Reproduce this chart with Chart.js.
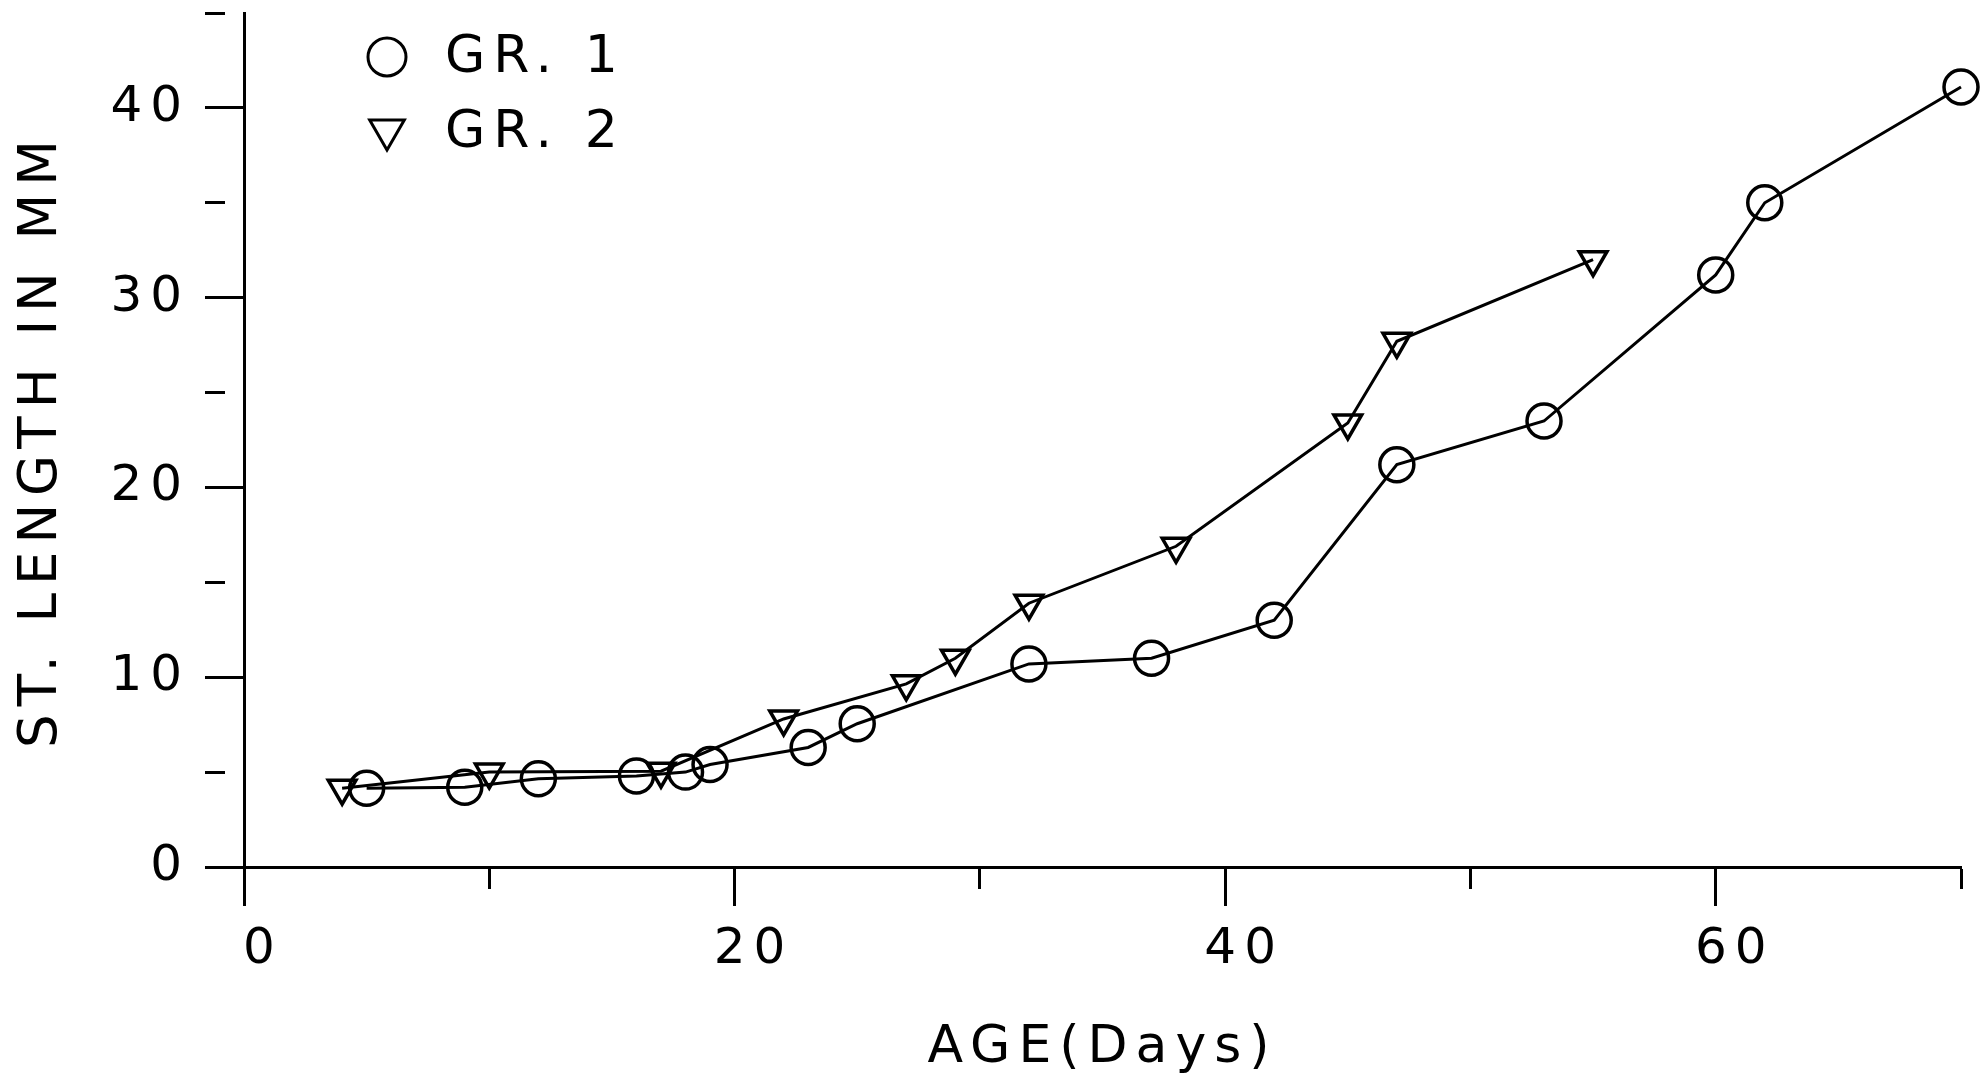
<!DOCTYPE html>
<html>
<head>
<meta charset="utf-8">
<title>St. length by age</title>
<script src="https://cdn.jsdelivr.net/npm/chart.js@4.4.1/dist/chart.umd.min.js"></script>
<style>
  html, body { margin: 0; padding: 0; background: #fff; }
  #wrap { width: 1981px; height: 1082px; }
</style>
</head>
<body>
<div id="wrap"><canvas id="growthChart" width="1981" height="1082"></canvas></div>
<script>
// values: age in days, standard length in mm
const gr1Age    = [5, 9, 12, 16, 18, 19, 23, 25, 32, 37, 42, 47, 53, 60, 62, 70];
const gr1Length = [4.15, 4.2, 4.65, 4.8, 5.0, 5.4, 6.3, 7.55, 10.7, 11.0, 13.0, 21.2, 23.5, 31.2, 35.0, 41.1];
const gr2Age    = [4, 10, 17, 22, 27, 29, 32, 38, 45, 47, 55];
const gr2Length = [4.15, 5.0, 5.05, 7.8, 9.65, 11.0, 13.9, 16.9, 23.4, 27.7, 32.0];

const seriesNames = ["GR. 1", "GR. 2"];
const xLabelTicks = [0, 20, 40, 60];      // labelled, long ticks
const yLabelTicks = [0, 10, 20, 30, 40];

const FONT = "'DejaVu Sans', 'Liberation Sans', sans-serif";
const INK  = "#000";

// plotter-style lettering is widely spaced
const spacing = {
    id: "spacing",
    beforeUpdate(chart) { chart.ctx.letterSpacing = "8px"; },
    beforeDraw(chart)   { chart.ctx.letterSpacing = "8px"; },
};

// legend sits inside the plot, top left
const insideLegend = {
    id: "insideLegend",
    afterDraw(chart) {
        const ctx  = chart.ctx;
        const rows = [{ my: 57, ty: 58, r: 19 }, { my: 130, ty: 133, r: 20 }];
        chart.data.datasets.forEach((ds, i) => {
            const row = rows[i];
            ctx.save();
            ctx.strokeStyle = INK;
            ctx.fillStyle   = "rgba(0,0,0,0)";
            ctx.lineWidth   = 3;
            Chart.helpers.drawPoint(ctx, {
                pointStyle: ds.pointStyle,
                radius: row.r,
                rotation: ds.pointRotation || 0,
                borderWidth: 3,
            }, 387, row.my);
            ctx.fillStyle    = INK;
            ctx.font         = "52px " + FONT;
            ctx.textBaseline = "middle";
            ctx.textAlign    = "left";
            ctx.fillText(ds.label, 445, row.ty);
            ctx.restore();
        });
    },
};

function toPoints(xs, ys) {
    return xs.map((x, i) => ({ x: x, y: ys[i] }));
}

const tickFont  = { family: FONT, size: 50 };
const titleFont = { family: FONT, size: 52 };

new Chart(document.getElementById("growthChart"), {
    type: "scatter",
    data: {
        datasets: [
            {
                label: seriesNames[0],
                data: toPoints(gr1Age, gr1Length),
                showLine: true,
                borderColor: INK,
                borderWidth: 3,
                pointStyle: "circle",
                pointRadius: 17,
                pointBorderWidth: 3.5,
                pointBorderColor: INK,
                pointBackgroundColor: "rgba(0,0,0,0)",
                clip: false,
            },
            {
                label: seriesNames[1],
                data: toPoints(gr2Age, gr2Length),
                showLine: true,
                borderColor: INK,
                borderWidth: 3,
                pointStyle: "triangle",
                pointRotation: 180,
                pointRadius: 16,
                pointBorderWidth: 3.5,
                pointBorderColor: INK,
                pointBackgroundColor: "rgba(0,0,0,0)",
                clip: false,
            },
        ],
    },
    options: {
        responsive: false,
        animation: false,
        devicePixelRatio: 1,
        events: [],
        layout: { autoPadding: false, padding: { left: 0, top: 13, right: 20, bottom: 0 } },
        plugins: { legend: { display: false }, tooltip: { enabled: false } },
        scales: {
            x: {
                type: "linear",
                min: 0,
                max: 70,
                afterFit(s) {
                    s.height = 215;
                    s.paddingLeft = 0;
                    s.paddingRight = 0;
                },
                border: { display: true, color: INK, width: 3 },
                grid: {
                    drawOnChartArea: false,
                    drawTicks: true,
                    tickLength: 39,
                    tickColor: INK,
                    tickWidth: 3,
                    tickBorderDash: c => xLabelTicks.includes(c.tick.value) ? [] : [20, 100],
                },
                ticks: {
                    stepSize: 10,
                    autoSkip: false,
                    maxRotation: 0,
                    padding: 14,
                    labelOffset: 19,
                    color: INK,
                    font: tickFont,
                    callback: v => xLabelTicks.includes(v) ? String(v) : "",
                },
                title: {
                    display: true,
                    text: "AGE(Days)",
                    color: INK,
                    font: titleFont,
                    padding: { top: 0, bottom: 2 },
                },
            },
            y: {
                type: "linear",
                min: 0,
                max: 45,
                afterFit(s) {
                    s.width = 244;
                    s.paddingTop = 0;
                    s.paddingBottom = 0;
                },
                border: { display: true, color: INK, width: 3 },
                grid: {
                    drawOnChartArea: false,
                    drawTicks: true,
                    tickLength: 39,
                    tickColor: INK,
                    tickWidth: 3,
                    tickBorderDash: c => yLabelTicks.includes(c.tick.value) ? [] : [20, 100],
                },
                ticks: {
                    stepSize: 5,
                    autoSkip: false,
                    padding: 15,
                    color: INK,
                    font: tickFont,
                    callback: v => yLabelTicks.includes(v) ? String(v) : "",
                },
                title: {
                    display: true,
                    text: "ST. LENGTH IN MM",
                    color: INK,
                    font: { family: FONT, size: 53 },
                    padding: { top: 10, bottom: 0 },
                },
            },
        },
    },
    plugins: [spacing, insideLegend],
});
</script>
</body>
</html>
